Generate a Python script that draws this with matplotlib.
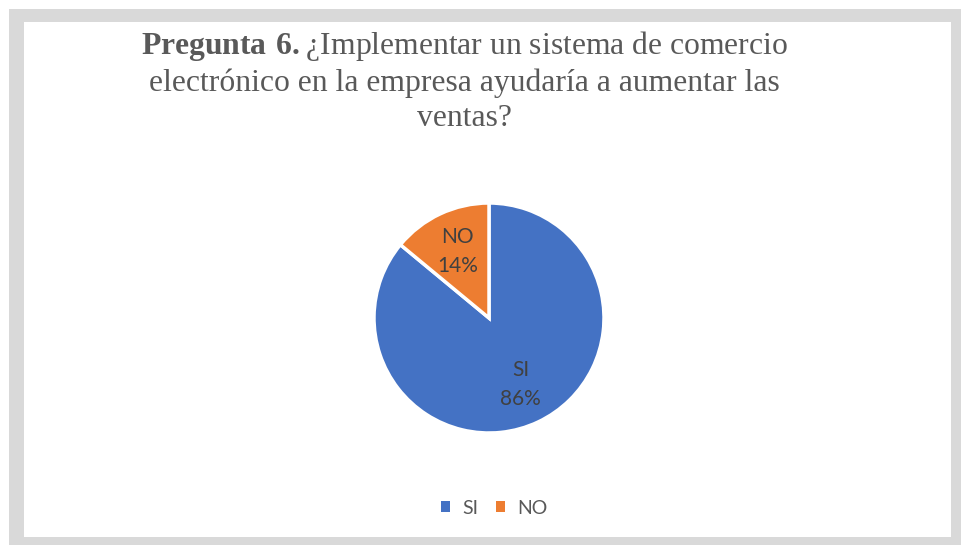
import matplotlib
matplotlib.use("Agg")
import matplotlib.pyplot as plt
from matplotlib.patches import Rectangle, Patch

categories = ["SI", "NO"]
percentages = [86, 14]
colors = ["#4472c4", "#ed7d31"]
title_lines = [
    r"$\mathbf{Pregunta\ 6.}$¿Implementar un sistema de comercio",
    "electrónico en la empresa ayudaría a aumentar las",
    "ventas?",
]

plt.rcParams["mathtext.fontset"] = "custom"
plt.rcParams["mathtext.bf"] = "Liberation Serif:bold"
plt.rcParams["mathtext.rm"] = "Liberation Serif"

W, H = 962, 545
fig = plt.figure(figsize=(W / 100, H / 100), dpi=100)
fig.patch.set_facecolor("white")

# gray frame and white chart area
fig.add_artist(Rectangle((9 / W, 0), (W - 9) / W, (H - 9) / H, transform=fig.transFigure,
                         facecolor="#d9d9d9", edgecolor="none", zorder=0))
fig.add_artist(Rectangle((24 / W, 8 / H), (951 - 24) / W, (538 - 23) / H, transform=fig.transFigure,
                         facecolor="white", edgecolor="none", zorder=0))

fig.text(464 / W, 1 - 81 / H, "\n".join(title_lines), ha="center", va="center",
         multialignment="center", family="Liberation Serif", fontsize=22.8,
         color="#595959", linespacing=1.28)

cx, cy, r = 489, 318, 115
ax = fig.add_axes([(cx - r) / W, (H - cy - r) / H, 2 * r / W, 2 * r / H])
label_iter = iter(categories)
wedges, _, autotexts = ax.pie(
    percentages,
    colors=colors,
    startangle=90,
    counterclock=False,
    radius=1,
    autopct=lambda p: f"{next(label_iter)}\n{p:.0f}%",
    pctdistance=0.64,
    wedgeprops=dict(edgecolor="white", linewidth=2.5),
    textprops=dict(color="#404040", fontsize=15, family="Lato", linespacing=1.55),
)
ax.set_xlim(-1, 1)
ax.set_ylim(-1, 1)
ax.set_aspect("equal")
ax.axis("off")

handles = [Patch(facecolor=c, edgecolor="none", label=l) for c, l in zip(colors, categories)]
fig.legend(handles=handles, loc="center", bbox_to_anchor=(494 / W, 1 - 508 / H), ncol=2,
           frameon=False, handlelength=0.5, handleheight=0.5, handletextpad=0.6,
           columnspacing=0.9, prop=dict(family="Lato", size=14), labelcolor="#595959")

fig.savefig("out.png", dpi=100, facecolor=fig.get_facecolor())
